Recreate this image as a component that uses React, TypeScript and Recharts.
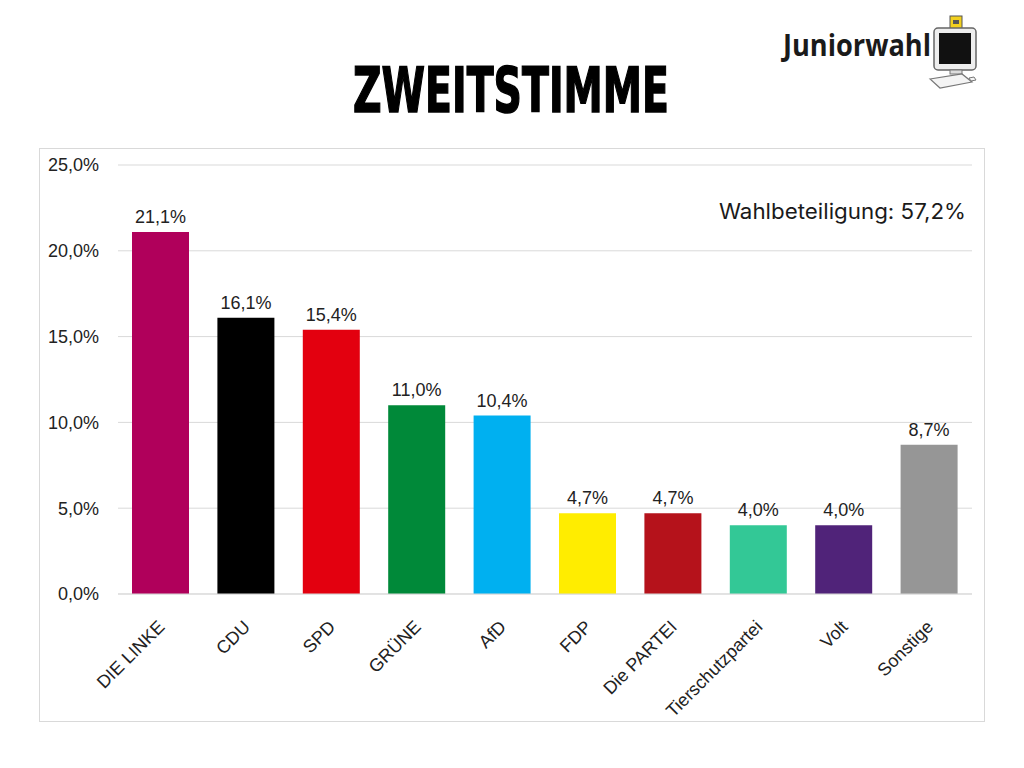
import React from "react";
import { BarChart, Bar, XAxis, YAxis, CartesianGrid, Cell, LabelList } from "recharts";

const parties = [
  "DIE LINKE",
  "CDU",
  "SPD",
  "GRÜNE",
  "AfD",
  "FDP",
  "Die PARTEI",
  "Tierschutzpartei",
  "Volt",
  "Sonstige",
];
const shares = [21.1, 16.1, 15.4, 11.0, 10.4, 4.7, 4.7, 4.0, 4.0, 8.7];
const partyColors = [
  "#b0005b",
  "#000000",
  "#e3000f",
  "#008939",
  "#00b0f0",
  "#ffed00",
  "#b5121b",
  "#33c896",
  "#502379",
  "#969696",
];
const yTicks = [0, 5, 10, 15, 20, 25];

const data = parties.map((party, i) => ({ party, share: shares[i] }));

const fmt = (v: number) => `${v.toFixed(1).replace(".", ",")}%`;
const FONT = "'Liberation Sans', Arial, sans-serif";

function PartyTick(props: any) {
  const { x, y, payload } = props;
  return (
    <g transform={`translate(${x + 5},${y + 26})`}>
      <text
        textAnchor="end"
        transform="rotate(-45)"
        fontSize={18}
        fontFamily={FONT}
        fill="#222"
      >
        {payload.value}
      </text>
    </g>
  );
}

function Logo() {
  return (
    <svg
      width={220}
      height={90}
      style={{ position: "absolute", left: 770, top: 5 }}
    >
      <text
        x={13}
        y={51}
        fontSize={31}
        fontWeight={700}
        fontFamily="'Open Sans', sans-serif"
        fill="#1a1a1a"
        textLength={148}
        lengthAdjust="spacingAndGlyphs"
      >
        Juniorwahl
      </text>
      {/* card */}
      <rect x={180} y={11} width={12} height={22} fill="#f2d01e" stroke="#555" strokeWidth={1} />
      <rect x={183} y={15} width={6} height={4} fill="#555" />
      {/* monitor */}
      <rect x={164} y={23} width={42} height={42} rx={4} fill="#eeeeee" stroke="#666" strokeWidth={1.5} />
      <rect x={169} y={28} width={32} height={31} fill="#111" />
      <rect x={180} y={65} width={12} height={4} fill="#ddd" stroke="#777" strokeWidth={1} />
      {/* keyboard */}
      <polygon points="160,74 192,69 202,77 170,83" fill="#f4f4f4" stroke="#777" strokeWidth={1.2} />
      <polygon points="199,73 204,72 206,75 201,76" fill="#f4f4f4" stroke="#777" strokeWidth={1} />
    </svg>
  );
}

export default function App() {
  return (
    <div
      style={{
        position: "relative",
        width: 1024,
        height: 768,
        margin: -8,
        background: "#ffffff",
        overflow: "hidden",
      }}
    >
      <svg width={1024} height={130} style={{ position: "absolute", left: 0, top: 0 }}>
        <text
          x={353}
          y={112}
          fontSize={63}
          fontWeight={700}
          fontFamily="'Liberation Sans Narrow', 'DejaVu Sans Condensed', sans-serif"
          fill="#000"
          stroke="#000"
          strokeWidth={1.5}
          textLength={316}
          lengthAdjust="spacingAndGlyphs"
        >
          ZWEITSTIMME
        </text>
      </svg>
      <Logo />
      <div
        style={{
          position: "absolute",
          left: 39,
          top: 148,
          width: 946,
          height: 574,
          border: "1px solid #d9d9d9",
          boxSizing: "border-box",
        }}
      >
        <BarChart
          width={944}
          height={572}
          data={data}
          margin={{ top: 16, right: 12, bottom: 0, left: 0 }}
          barCategoryGap="33%"
        >
          <CartesianGrid vertical={false} stroke="#d9d9d9" strokeWidth={1} />
          <XAxis
            dataKey="party"
            height={127}
            interval={0}
            axisLine={{ stroke: "#d9d9d9" }}
            tickLine={false}
            tick={<PartyTick />}
          />
          <YAxis
            width={78}
            domain={[0, 25]}
            ticks={yTicks}
            axisLine={false}
            tickLine={false}
            tickSize={6}
            tickMargin={13}
            tickFormatter={fmt}
            tick={{ fontSize: 18, fontFamily: FONT, fill: "#222" }}
          />
          <Bar dataKey="share" isAnimationActive={false} barSize={57}>
            {data.map((d, i) => (
              <Cell key={d.party} fill={partyColors[i]} />
            ))}
            <LabelList
              dataKey="share"
              position="top"
              offset={9}
              formatter={(v: any) => fmt(Number(v))}
              style={{ fontSize: 18, fontFamily: FONT, fill: "#222" }}
            />
          </Bar>
        </BarChart>
        <svg
          width={300}
          height={40}
          style={{ position: "absolute", left: 670, top: 45 }}
        >
          <text
            x={9}
            y={25}
            fontSize={21}
            fontFamily="Inter, 'Open Sans', sans-serif"
            fill="#1a1a1a"
            textLength={247}
            lengthAdjust="spacingAndGlyphs"
          >
            Wahlbeteiligung: 57,2%
          </text>
        </svg>
      </div>
    </div>
  );
}
